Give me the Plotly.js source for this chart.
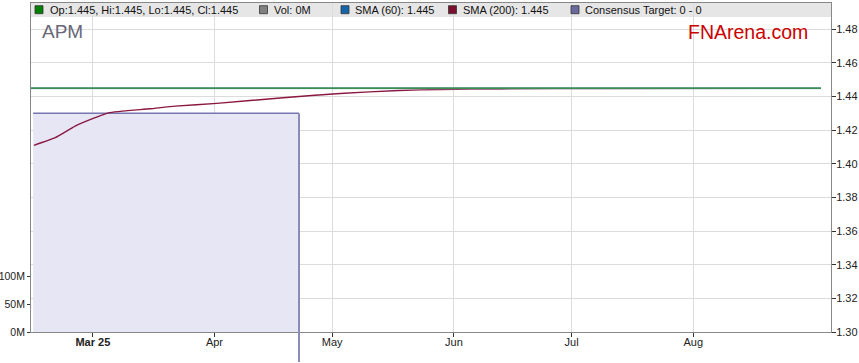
<!DOCTYPE html>
<html>
<head>
<meta charset="utf-8">
<script src="https://cdn.plot.ly/plotly-3.0.1.min.js"></script>
<style>html,body{margin:0;padding:0;background:#fff;}#chart{width:859px;height:363px;}</style>
</head>
<body>
<div id="chart"></div>
<script>
// ---- data ----
const ticker = "APM";
const priceDates = ["2025-02-13", "2025-03-14", "2025-04-15", "2025-05-15", "2025-06-16", "2025-07-15", "2025-08-15", "2025-09-02 12:00"];
const priceClose = [1.445, 1.445, 1.445, 1.445, 1.445, 1.445, 1.445, 1.445];
const sma60 = [1.445, 1.445, 1.445, 1.445, 1.445, 1.445, 1.445, 1.445];
const smaDates = ["2025-02-14", "2025-02-19 10:00", "2025-02-24 12:00", "2025-03-01 14:00", "2025-03-05", "2025-03-15 14:00", "2025-03-22", "2025-04-01 14:00", "2025-04-18 12:00", "2025-05-03", "2025-05-18", "2025-05-28 12:00", "2025-06-12 18:00", "2025-07-08", "2025-09-02 12:00"];
const sma200 = [1.4110, 1.4155, 1.4224, 1.4274, 1.4303, 1.4327, 1.4343, 1.4359, 1.4393, 1.4418, 1.4436, 1.4442, 1.4445, 1.4448, 1.4450];
const volDates = ["2025-02-14", "2025-09-02"];
const volume = [0, 0];
const targetStart = "2025-02-13 19:00";
const targetEnd = "2025-04-22 13:00";
const targetTop = 1.4300;
const priceTicks = [1.30, 1.32, 1.34, 1.36, 1.38, 1.40, 1.42, 1.44, 1.46, 1.48];
const volTicks = [0, 50e6, 100e6];
const volTickText = ["0M", "50M", "100M"];
const monthTicks = ["2025-03-01", "2025-04-01", "2025-05-01", "2025-06-01", "2025-07-01", "2025-08-01"];
const monthLabels = ["<b>Mar 25</b>", "Apr", "May", "Jun", "Jul", "Aug"];
const legendItems = [
  {text: "Op:1.445, Hi:1.445, Lo:1.445, Cl:1.445", color: "#008000"},
  {text: "Vol: 0M", color: "#808080"},
  {text: "SMA (60): 1.445", color: "#1565a8"},
  {text: "SMA (200): 1.445", color: "#7a0f2e"},
  {text: "Consensus Target: 0 - 0", color: "#6a6a9e"}
];

// ---- layout geometry (pixels) ----
const W = 859, H = 363, L = 31, R = 28, T = 3, B = 31;
const pw = W - L - R, ph = H - T - B;
const yMin = 1.30, yMax = 1.30 + ph / 1682;
const xRange = ["2025-02-13 06:00", "2025-09-05 02:00"];
const px = x => (x - L) / pw;
const py = y => (H - B - y) / ph;
const F = "'Liberation Sans', Arial, sans-serif";

const traces = [
  {type: "bar", x: volDates, y: volume, yaxis: "y2", marker: {color: "#808080"}, hoverinfo: "skip"},
  {type: "scatter", mode: "lines", x: [targetStart, targetStart, targetEnd, targetEnd, targetStart],
   y: [yMin, targetTop, targetTop, yMin, yMin], fill: "toself", fillcolor: "#e6e6f5",
   line: {width: 0, color: "rgba(0,0,0,0)"}, hoverinfo: "skip"},
  {type: "scatter", mode: "lines", x: [targetStart, targetEnd], y: [targetTop, targetTop],
   line: {color: "#7676b2", width: 1.5}, hoverinfo: "skip"},
  {type: "scatter", mode: "lines", x: smaDates, y: sma200, line: {color: "#8a1840", width: 1.4, shape: "spline", smoothing: 0.5}},
  {type: "scatter", mode: "lines", x: priceDates, y: sma60, line: {color: "#a6c8e8", width: 2.2}},
  {type: "scatter", mode: "lines", x: priceDates, y: priceClose, line: {color: "#1a7a1a", width: 1.1}}
];

const shapes = [
  {type: "rect", xref: "paper", yref: "paper", x0: 0, x1: 1, y0: py(17), y1: 1,
   fillcolor: "#e6e6e6", line: {width: 0}, layer: "below"},
  {type: "line", xref: "x", yref: "paper", x0: targetEnd, x1: targetEnd,
   y0: py(362), y1: (targetTop - yMin) / (yMax - yMin), line: {color: "#8a8ab8", width: 2}, layer: "above"}
];
const sqX = [35, 259.5, 341, 448.5, 571];
const txX = [47.7, 271.7, 353, 460.7, 582.7];
const annotations = [];
legendItems.forEach((it, i) => {
  shapes.push({type: "rect", xref: "paper", yref: "paper", x0: px(sqX[i]), x1: px(sqX[i] + 8),
    y0: py(13.7), y1: py(5.7), fillcolor: it.color, line: {color: "#333", width: 0.8}, layer: "above"});
  annotations.push({xref: "paper", yref: "paper", x: px(txX[i]), y: py(10), xanchor: "left", yanchor: "middle",
    text: it.text, showarrow: false, font: {family: F, size: 11, color: "#111"}});
});
annotations.push({xref: "paper", yref: "paper", x: px(39.5), y: py(32), xanchor: "left", yanchor: "middle",
  text: ticker, showarrow: false, font: {family: F, size: 19, color: "#676778"}});
annotations.push({xref: "paper", yref: "paper", x: px(810), y: py(31.5), xanchor: "right", yanchor: "middle",
  text: "FNArena.com", showarrow: false, font: {family: F, size: 19.5, color: "#cc0000"}});

const layout = {
  width: W, height: H, margin: {l: L, r: R, t: T, b: B, pad: 0},
  paper_bgcolor: "#ffffff", plot_bgcolor: "rgba(0,0,0,0)",
  showlegend: false, font: {family: F, size: 11, color: "#222"},
  xaxis: {type: "date", range: xRange, tickvals: monthTicks, ticktext: monthLabels,
    showgrid: true, gridcolor: "#dcdcdc", gridwidth: 1, showline: true, linecolor: "#888", linewidth: 1, mirror: true,
    ticks: "outside", ticklen: 4, tickcolor: "#333", ticklabelstandoff: -4,
    tickfont: {family: F, size: 11, color: "#222"}, zeroline: false},
  yaxis: {side: "right", range: [yMin, yMax], tickvals: priceTicks, ticktext: priceTicks.map(v => v.toFixed(2)),
    showgrid: true, gridcolor: "#dcdcdc", gridwidth: 1, showline: true, linecolor: "#888", linewidth: 1,
    ticks: "outside", ticklen: 4, tickcolor: "#333", ticklabelstandoff: -2,
    tickfont: {family: F, size: 11, color: "#222"}, zeroline: false},
  yaxis2: {overlaying: "y", side: "left", range: [0, ph / 27.8 * 50e6], tickvals: volTicks, ticktext: volTickText,
    showgrid: false, showline: true, linecolor: "#888", linewidth: 1, ticks: "outside", ticklen: 3, tickcolor: "#333",
    tickfont: {family: F, size: 10.5, color: "#222"}, zeroline: false},
  shapes: shapes, annotations: annotations
};

Plotly.newPlot("chart", traces, layout, {displayModeBar: false, staticPlot: true});
</script>
</body>
</html>
